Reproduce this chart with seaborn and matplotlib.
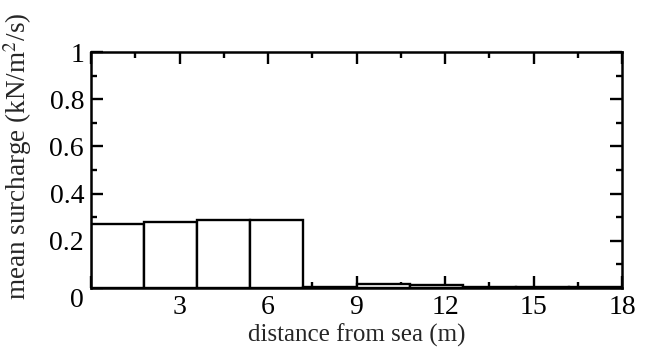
import matplotlib
matplotlib.use("Agg")
import matplotlib.pyplot as plt
import seaborn as sns
import numpy as np
from matplotlib.ticker import MultipleLocator, FuncFormatter

bin_edges = [0, 1.8, 3.6, 5.4, 7.2, 9.0, 10.8, 12.6, 14.4, 16.2, 18.0]
surcharge = [0.27, 0.278, 0.288, 0.288, 0.002, 0.016, 0.012, 0.005, 0.004, 0.004]

sns.set_theme(style="ticks")
plt.rcParams['font.family'] = ['Liberation Serif', 'DejaVu Serif']
plt.rcParams['mathtext.fontset'] = 'stix'

centers = [(a + b) / 2 for a, b in zip(bin_edges[:-1], bin_edges[1:])]

fig = plt.figure(figsize=(6.52, 3.49), dpi=100)
ax = fig.add_axes([0.1396, 0.175, 0.8144, 0.676])

sns.histplot(x=centers, weights=surcharge, bins=bin_edges, stat="count",
             color="white", edgecolor="black", linewidth=1.7, alpha=1, ax=ax)

ax.set_xlim(0, 18)
ax.set_ylim(0, 1)
ax.xaxis.set_major_locator(MultipleLocator(3))
ax.xaxis.set_minor_locator(MultipleLocator(1.5))
ax.yaxis.set_major_locator(MultipleLocator(0.2))
ax.yaxis.set_minor_locator(MultipleLocator(0.1))
ax.yaxis.set_major_formatter(FuncFormatter(lambda v, p: "0" if abs(v) < 1e-9 else ("1" if abs(v - 1) < 1e-9 else f"{v:.1f}")))
ax.xaxis.set_major_formatter(FuncFormatter(lambda v, p: "" if abs(v) < 1e-9 else f"{v:.0f}"))

ax.tick_params(which="both", direction="in", top=True, right=True, width=1.7, labelsize=20, colors="black")
ax.tick_params(which="major", length=8.5, pad=5)
ax.tick_params(which="minor", length=4.5)
for s in ax.spines.values():
    s.set_linewidth(1.8)
    s.set_color("black")

ax.set_xlabel("distance from sea (m)", fontsize=18, labelpad=3)
ax.set_ylabel("mean surcharge (kN/m$^2$/s)", fontsize=19.5)
ax.yaxis.set_label_coords(-0.108, 0.56)

fig.canvas.draw()
for t in ax.yaxis.get_major_ticks():
    if abs(t.get_loc()) < 1e-9:
        t.label1.set_va("top")
        t.label1.set_y(-0.02)

fig.savefig("out.png", dpi=100)
